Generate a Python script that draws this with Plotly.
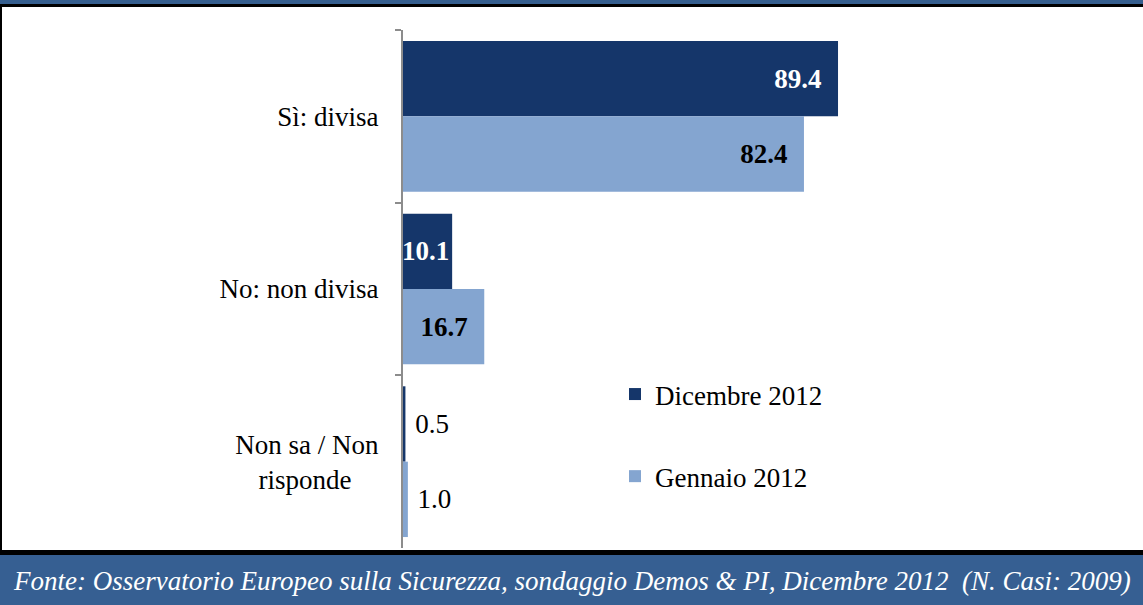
import plotly.graph_objects as go

# ---- data ----
categories = ["Sì: divisa", "No: non divisa", "Non sa / Non<br>risponde\u00a0\u00a0\u00a0\u00a0"]
series_names = ["Dicembre 2012", "Gennaio 2012"]
dicembre_2012 = [89.4, 10.1, 0.5]
gennaio_2012 = [82.4, 16.7, 1.0]
footer_text = "Fonte: Osservatorio Europeo sulla Sicurezza, sondaggio Demos & PI, Dicembre 2012  (N. Casi: 2009)"

# ---- layout constants ----
W, H = 1143, 605
ML, MR, MT, MB = 403, 20, 30, 57
PW, PH = W - ML - MR, H - MT - MB
PX_PER_UNIT = 4.866
XMAX = PW / PX_PER_UNIT

DARK = "#15366A"
LIGHT = "#84A5D0"
BAND = "#355E8E"
FONT = "Liberation Serif"
NBSP = "\u00a0"


def px_x(x):
    return (x - ML) / PW


def px_y(y):
    return (H - MB - y) / PH


def positions(vals):
    return ["inside" if v > 5 else "outside" for v in vals]


def labels(vals):
    out = []
    for v in vals:
        s = f"{v:.1f}"
        if v > 12:
            s = s + NBSP * 2
        elif v <= 5:
            s = NBSP + s
        out.append(s)
    return out


fig = go.Figure()
for name, vals, col, tcol in [
    (series_names[0], dicembre_2012, DARK, "white"),
    (series_names[1], gennaio_2012, LIGHT, "black"),
]:
    fig.add_trace(go.Bar(
        y=categories, x=vals, name=name, orientation="h",
        marker=dict(color=col, line=dict(width=0)),
        text=labels(vals), textposition=positions(vals),
        insidetextanchor="end", constraintext="none", textangle=0,
        insidetextfont=dict(family=FONT, size=27, color=tcol, weight="bold"),
        outsidetextfont=dict(family=FONT, size=27, color="black"),
        cliponaxis=False,
        legendgroup=name,
    ))

shapes = []


def rect(x0, y0, x1, y1, color):
    shapes.append(dict(type="rect", xref="paper", yref="paper",
                       x0=px_x(x0), x1=px_x(x1), y0=px_y(y0), y1=px_y(y1),
                       fillcolor=color, line=dict(width=0), layer="below"))


rect(0, 0, W, 4, BAND)
rect(0, 4, W, 7, "black")
rect(0, 7, 2, 550, "black")
rect(0, 550, W, 555, "black")
rect(0, 555, W, H, "#365F92")

fig.update_layout(
    width=W, height=H,
    margin=dict(l=ML, r=MR, t=MT, b=MB, pad=0, autoexpand=False),
    paper_bgcolor="white", plot_bgcolor="white",
    barmode="group", bargap=0.127, bargroupgap=0,
    font=dict(family=FONT, size=27, color="black"),
    shapes=shapes,
    xaxis=dict(range=[0, XMAX], visible=False, fixedrange=True),
    yaxis=dict(autorange="reversed", showline=True, linecolor="#8C8C8C", linewidth=2,
               ticks="outside", ticklen=6, tickwidth=2, tickcolor="#8C8C8C",
               tickson="boundaries", ticklabelstandoff=17,
               tickfont=dict(family=FONT, size=27, color="black"),
               showgrid=False, zeroline=False, fixedrange=True),
    showlegend=True,
    legend=dict(xref="paper", yref="paper", x=px_x(615), y=px_y(370),
                xanchor="left", yanchor="top", traceorder="grouped",
                tracegroupgap=44, bgcolor="rgba(0,0,0,0)",
                font=dict(family=FONT, size=27, color="black")),
    annotations=[dict(xref="paper", yref="paper", x=px_x(W / 2), y=px_y(581),
                      text=f"<i>{footer_text}</i>", showarrow=False,
                      xanchor="center", yanchor="middle",
                      font=dict(family=FONT, size=27, color="white"))],
)

fig.write_html(
    "out.html",
    config={"displayModeBar": False},
    post_script="document.body.style.margin='0px';document.body.style.overflow='hidden';",
)
